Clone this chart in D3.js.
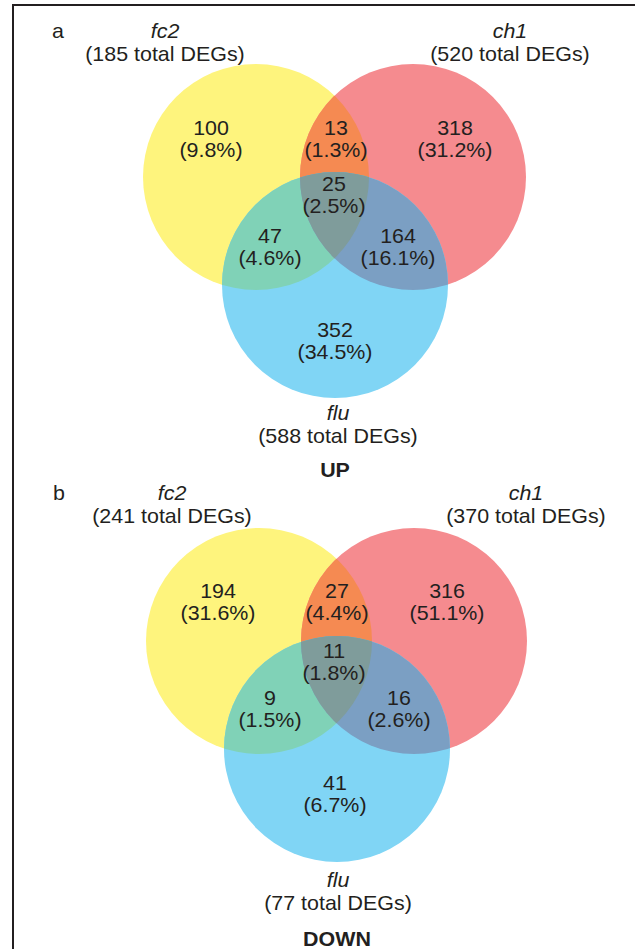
<!DOCTYPE html>
<html>
<head>
<meta charset="utf-8">
<script src="https://cdn.jsdelivr.net/npm/d3@7"></script>
<style>
    body { margin: 0; background: #fff; }
    text { font-family: "Liberation Sans", Arial, sans-serif; fill: #231f20; }
</style>
</head>
<body>
<div id="container"></div>
<script>
// sets and region values
const setNames = ["fc2", "ch1", "flu"]
const upTotals = [185, 520, 588]
const downTotals = [241, 370, 77]
// region order: fc2 only, fc2&ch1, ch1 only, all three, fc2&flu, ch1&flu, flu only
const regionKeys = ["fc2", "fc2_ch1", "ch1", "all", "fc2_flu", "ch1_flu", "flu"]
const upCounts = [100, 13, 318, 25, 47, 164, 352]
const upPercents = ["9.8%", "1.3%", "31.2%", "2.5%", "4.6%", "16.1%", "34.5%"]
const downCounts = [194, 27, 316, 11, 9, 16, 41]
const downPercents = ["31.6%", "4.4%", "51.1%", "1.8%", "1.5%", "2.6%", "6.7%"]
const panelTitles = ["UP", "DOWN"]
const panelLetters = ["a", "b"]

const W = 635, H = 949
const colors = {
    fc2: "#fef47d", ch1: "#f58b8f", flu: "#80d5f5",
    fc2_ch1: "#f58a52", fc2_flu: "#80d2b7", ch1_flu: "#7b9fc3", all: "#7f9c9b"
}

// layout of each panel (pixel positions, not data)
const panels = [
    {
        dx: 0, dy: 0, r: 113,
        centers: [[256, 177], [413, 177], [335, 285]],
        labels: [[211, 135], [336, 135], [455, 135], [334, 191], [270, 243], [398, 243], [335, 337]],
        names: [[165, 38], [510, 38], [338, 420]],
        title: [335, 477], letter: [52, 38]
    },
    {
        dx: 0, dy: 463, r: 113,
        centers: [[259, 178], [414, 178], [337, 286]],
        labels: [[218, 135], [337, 135], [447, 135], [334, 195], [270, 242], [399, 242], [335, 327]],
        names: [[172, 37], [526, 37], [338, 424]],
        title: [337, 483], letter: [53, 37]
    }
]

const svg = d3.select("#container")
    .append("svg")
    .attr("width", W)
    .attr("height", H)

/* FRAME */
svg.append("rect")
    .attr("x", 13).attr("y", 5)
    .attr("width", 700).attr("height", 1000)
    .attr("fill", "none")
    .attr("stroke", "#231f20")
    .attr("stroke-width", 2)

const defs = svg.append("defs")

function textLine(g, x, y, str, opts = {}) {
    return g.append("text")
        .attr("transform", `translate(${x},${y}) scale(1.03,1)`)
        .attr("text-anchor", opts.anchor || "middle")
        .style("font-size", (opts.size || 20.8) + "px")
        .style("font-style", opts.italic ? "italic" : null)
        .style("font-weight", opts.bold ? "bold" : null)
        .text(str)
}

function Venn(p, idx, totals, counts, percents) {
    const g = svg.append("g").attr("transform", `translate(${p.dx},${p.dy})`)

    // clip paths for each circle
    setNames.forEach((name, i) => {
        defs.append("clipPath")
            .attr("id", `clip-${idx}-${name}`)
            .append("circle")
            .attr("cx", p.centers[i][0])
            .attr("cy", p.centers[i][1])
            .attr("r", p.r)
    })

    const circle = (sel, i, fill) => sel.append("circle")
        .attr("cx", p.centers[i][0])
        .attr("cy", p.centers[i][1])
        .attr("r", p.r)
        .attr("fill", fill)

    /* SINGLE SETS */
    setNames.forEach((name, i) => circle(g, i, colors[name]))

    /* PAIRWISE OVERLAPS */
    circle(g.append("g").attr("clip-path", `url(#clip-${idx}-fc2)`), 1, colors.fc2_ch1)
    circle(g.append("g").attr("clip-path", `url(#clip-${idx}-fc2)`), 2, colors.fc2_flu)
    circle(g.append("g").attr("clip-path", `url(#clip-${idx}-ch1)`), 2, colors.ch1_flu)

    /* TRIPLE OVERLAP */
    const tri = g.append("g").attr("clip-path", `url(#clip-${idx}-fc2)`)
        .append("g").attr("clip-path", `url(#clip-${idx}-ch1)`)
    circle(tri, 2, colors.all)

    /* REGION LABELS */
    regionKeys.forEach((key, i) => {
        const [lx, ly] = p.labels[i]
        textLine(g, lx, ly, counts[i])
        textLine(g, lx, ly + 22, `(${percents[i]})`)
    })

    /* SET NAMES */
    setNames.forEach((name, i) => {
        const [nx, ny] = p.names[i]
        textLine(g, nx, ny, name, { italic: true })
        textLine(g, nx, ny + 23, `(${totals[i]} total DEGs)`)
    })

    textLine(g, p.title[0], p.title[1], panelTitles[idx], { bold: true })
    textLine(g, p.letter[0], p.letter[1], panelLetters[idx], { anchor: "start" })
}

Venn(panels[0], 0, upTotals, upCounts, upPercents)
Venn(panels[1], 1, downTotals, downCounts, downPercents)
</script>
</body>
</html>
